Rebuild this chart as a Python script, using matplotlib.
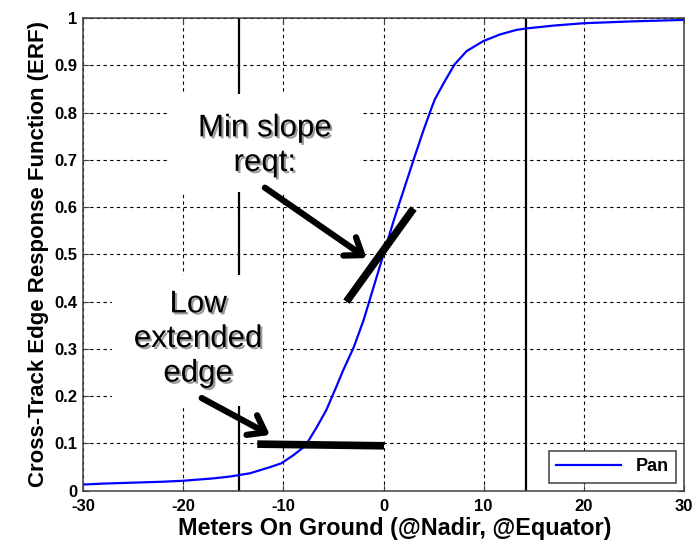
import numpy as np
import matplotlib
matplotlib.use('Agg')
import matplotlib.pyplot as plt
import matplotlib.patheffects as pe
from matplotlib.patches import Rectangle
from matplotlib.ticker import FuncFormatter

plt.rcParams['font.family'] = ['Liberation Sans', 'DejaVu Sans']
plt.rcParams['axes.unicode_minus'] = False

# Edge response curve
meters = [-30, -28, -25, -22, -20, -17, -15.3, -13.3, -11.3, -10.2, -9.0,
          -7.8, -6.7, -5.7, -4.85, -4.0, -3.0, -2.0, -1.0, 0, 1.0, 1.5, 2.0,
          3.0, 4.0, 4.8, 5.13, 6.0, 7.1, 8.3, 9.95, 11.6, 13.3, 14.3, 17, 20,
          25, 30]
erf = [0.013, 0.015, 0.017, 0.019, 0.021, 0.026, 0.030, 0.037, 0.050, 0.058,
       0.075, 0.095, 0.133, 0.171, 0.213, 0.256, 0.302, 0.360, 0.430, 0.500,
       0.570, 0.603, 0.635, 0.700, 0.763, 0.810, 0.828, 0.862, 0.902, 0.930,
       0.951, 0.965, 0.975, 0.978, 0.984, 0.989, 0.993, 0.996]

marker_x = [-14.4, 14.2]                  # vertical reference lines
slope_x, slope_y = [-3.7, 3.0], [0.400, 0.597]
low_x, low_y = [-12.6, 0.05], [0.0985, 0.095]

fig = plt.figure(figsize=(6.93, 5.41), dpi=100)
ax = fig.add_axes([0.1198, 0.093, 0.8672, 0.8737])

ax.set_xlim(-30, 30)
ax.set_ylim(0, 1)
ax.set_xticks(np.arange(-30, 31, 10))
ax.set_yticks(np.arange(0, 1.01, 0.1))
ax.yaxis.set_major_formatter(FuncFormatter(lambda v, p: '%g' % round(v, 1)))
ax.tick_params(direction='in', length=4, top=True, right=True,
               labelsize=12, color='#404040', pad=4)
ax.tick_params(axis='x', pad=6)
for lab in ax.get_xticklabels() + ax.get_yticklabels():
    lab.set_fontweight('bold')
for s in ax.spines.values():
    s.set_color('#404040')
    s.set_linewidth(1.1)

ax.set_axisbelow(True)
ax.grid(True, color='black', linestyle=(0, (3, 3)), linewidth=0.8)

for xv in marker_x:
    ax.axvline(xv, color='black', lw=1.6, zorder=0.8)

# white text boxes hide grid and marker lines
ax.add_patch(Rectangle((-21.3, 0.631), 18.95, 0.209, facecolor='white',
                       edgecolor='none', zorder=1))
ax.add_patch(Rectangle((-27.1, 0.179), 17.05, 0.278, facecolor='white',
                       edgecolor='none', zorder=1))

ax.plot(meters, erf, color='#0000ff', lw=1.6, label='Pan', zorder=2)

ax.plot(slope_x, slope_y, color='black', lw=5.5, solid_capstyle='butt', zorder=3)
ax.plot(low_x, low_y, color='black', lw=5.5, solid_capstyle='butt', zorder=3)

shadow = [pe.withSimplePatchShadow(offset=(1.5, -1.5), shadow_rgbFace='0.35',
                                   alpha=0.6)]
ax.text(-11.84, 0.73, 'Min slope\nreqt:', fontsize=22.5, ha='center',
        va='center', multialignment='center', path_effects=shadow, zorder=4)
ax.text(-18.5, 0.321, 'Low\nextended\nedge', fontsize=22.5, ha='center',
        va='center', multialignment='center', path_effects=shadow, zorder=4)

arrow = dict(arrowstyle='->,head_length=0.55,head_width=0.4', lw=4.5,
             color='black', mutation_scale=20, shrinkA=0, shrinkB=0)
ax.annotate('', xy=(-1.69, 0.492), xytext=(-11.84, 0.641),
            arrowprops=arrow, zorder=4)
ax.annotate('', xy=(-11.34, 0.118), xytext=(-18.15, 0.196),
            arrowprops=arrow, zorder=4)

ax.set_xlabel('Meters On Ground (@Nadir, @Equator)', fontsize=16.8,
              fontweight='bold', labelpad=1)
ax.xaxis.set_label_coords(0.519, -0.056)
ax.set_ylabel('Cross-Track Edge Response Function (ERF)', fontsize=16,
              fontweight='bold', labelpad=4)

leg = ax.legend(loc='lower right', fancybox=False, framealpha=1,
                edgecolor='#404040', handlelength=3.6,
                prop={'weight': 'bold', 'size': 13}, borderaxespad=0.45)
leg.get_frame().set_linewidth(1.1)

fig.savefig('out.png', dpi=100)
